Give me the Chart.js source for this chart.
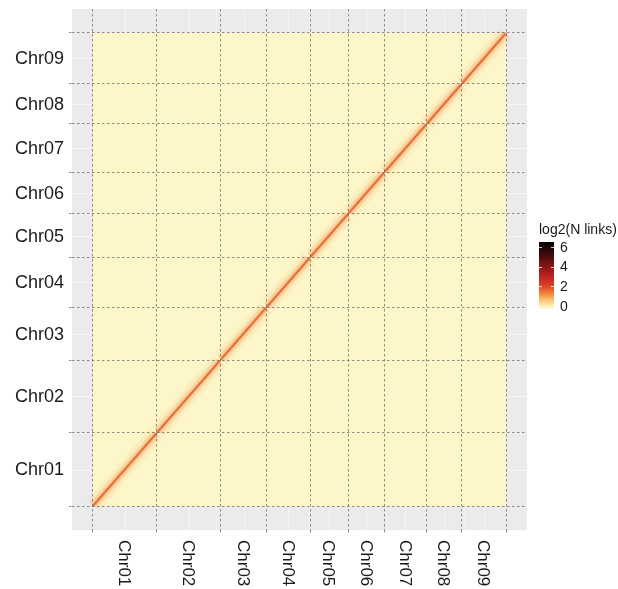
<!DOCTYPE html>
<html>
<head>
<meta charset="utf-8">
<script src="https://cdn.jsdelivr.net/npm/chart.js@4.4.1/dist/chart.umd.min.js"></script>
<style>
  html, body { margin: 0; padding: 0; background: #fff; }
  #wrap { width: 618px; height: 589px; }
</style>
</head>
<body>
<div id="wrap"><canvas id="hicChart" width="618" height="589"></canvas></div>
<script>
const chromosomes = ["Chr01", "Chr02", "Chr03", "Chr04", "Chr05", "Chr06", "Chr07", "Chr08", "Chr09"];
const chromLengths = [64.2, 63.3, 46.2, 43.3, 38.2, 35.9, 42.3, 34.9, 44.7];

// colour bar: log2(N links)
const legendTicks = [0, 2, 4, 6];
const legendRange = [-0.3, 6.5];
const rampValues = [-0.3, 0, 0.6, 1.2, 2, 3, 4, 5, 6, 6.5];
const rampColors = ["#FFFBE2", "#FEEDB4", "#FBC477", "#F48B3E", "#DE4327", "#BC2220", "#8A1717", "#4C0C0C", "#1C0505", "#000000"];

const starts = [];
let genome = 0;
chromLengths.forEach((len) => { starts.push(genome); genome += len; });
const boundaries = [...starts, genome];
const centers = starts.map((s, i) => s + chromLengths[i] / 2);
const pad = genome * 0.05;

// contact map: near-zero background plus the intra-chromosome diagonal
const heatRect = [{ x: 0, y: genome }, { x: genome, y: genome }];
const diagonal = [{ x: 0, y: 0 }, { x: genome, y: genome }];
const intraBlocks = starts.flatMap((s, i) => {
  const e = s + chromLengths[i];
  return [{ x: s + 0.8, y: s + 0.8 }, { x: e - 0.8, y: e - 0.8 }, { x: e, y: null }];
});

const FONT = "'Liberation Sans', Arial, Helvetica, sans-serif";

const panelPlugin = {
  id: "panel",
  beforeDatasetsDraw(chart) {
    const { ctx, chartArea: a, scales: { x, y } } = chart;
    ctx.save();
    ctx.fillStyle = "#EBEBEB";
    ctx.fillRect(a.left, a.top, a.right - a.left, a.bottom - a.top);
    ctx.strokeStyle = "rgba(255,255,255,0.55)";
    const minors = centers.slice(1).map((c, i) => (c + centers[i]) / 2);
    [[centers, 1], [minors, 0.5]].forEach(([vals, w]) => {
      ctx.lineWidth = w;
      vals.forEach((v) => {
        const px = Math.round(x.getPixelForValue(v)) + 0.5;
        const py = Math.round(y.getPixelForValue(v)) + 0.5;
        ctx.beginPath();
        ctx.moveTo(px, a.top); ctx.lineTo(px, a.bottom);
        ctx.moveTo(a.left, py); ctx.lineTo(a.right, py);
        ctx.stroke();
      });
    });
    ctx.restore();
  },
  afterDraw(chart) {
    const { ctx, chartArea: a, scales: { x, y } } = chart;
    ctx.save();
    ctx.fillStyle = "#1A1A1A";
    // y labels
    ctx.font = "18px " + FONT;
    ctx.textAlign = "right";
    ctx.textBaseline = "middle";
    chromosomes.forEach((name, i) => {
      ctx.fillText(name, a.left - 8, y.getPixelForValue(centers[i]) + 1);
    });
    // x labels, rotated to read downwards
    ctx.font = "17px " + FONT;
    ctx.textAlign = "left";
    chromosomes.forEach((name, i) => {
      ctx.save();
      ctx.translate(x.getPixelForValue(centers[i]) - 1, a.bottom + 10);
      ctx.rotate(Math.PI / 2);
      ctx.fillText(name, 0, 0);
      ctx.restore();
    });

    // colour bar legend
    const barLeft = a.right + 12, barW = 15, barTop = 242, barBottom = 309;
    const valToPx = (v) => barBottom - (v - legendRange[0]) / (legendRange[1] - legendRange[0]) * (barBottom - barTop);
    ctx.font = "14px " + FONT;
    ctx.fillStyle = "#1A1A1A";
    ctx.textAlign = "left";
    ctx.fillText("log2(N links)", barLeft, 230);
    const grad = ctx.createLinearGradient(0, barBottom, 0, barTop);
    rampValues.forEach((v, i) => {
      grad.addColorStop((v - legendRange[0]) / (legendRange[1] - legendRange[0]), rampColors[i]);
    });
    ctx.fillStyle = grad;
    ctx.fillRect(barLeft, barTop, barW, barBottom - barTop);
    ctx.strokeStyle = "rgba(255,255,255,0.8)";
    ctx.lineWidth = 1;
    ctx.font = "14px " + FONT;
    ctx.fillStyle = "#1A1A1A";
    legendTicks.forEach((v) => {
      const py = Math.round(valToPx(v)) + 0.5;
      ctx.beginPath();
      ctx.moveTo(barLeft, py); ctx.lineTo(barLeft + 3, py);
      ctx.moveTo(barLeft + barW - 3, py); ctx.lineTo(barLeft + barW, py);
      ctx.stroke();
      ctx.fillText(String(v), barLeft + 21, valToPx(v) + 1);
    });
    ctx.restore();
  }
};

const dashedAxis = (ticks, tickLength) => ({
  type: "linear",
  min: -pad,
  max: genome + pad,
  afterBuildTicks: (scale) => { scale.ticks = ticks.map((v) => ({ value: v })); },
  ticks: { display: false },
  grid: {
    z: 1,
    color: "rgba(105,105,105,0.75)",
    lineWidth: 1,
    drawTicks: true,
    tickLength,
    tickColor: "rgba(105,105,105,0.75)",
    tickBorderDash: [2.5, 2.5],
  },
  border: { display: false, dash: [2.5, 2.5] },
});

new Chart(document.getElementById("hicChart"), {
  type: "line",
  data: {
    datasets: [
      { data: diagonal, borderColor: "#E4602C", borderWidth: 1.4, pointRadius: 0, order: 1 },
      { data: intraBlocks, borderColor: "rgba(236,125,64,0.40)", borderWidth: 4, pointRadius: 0, order: 2 },
      { data: intraBlocks, borderColor: "rgba(240,150,85,0.24)", borderWidth: 9, pointRadius: 0, order: 3 },
      { data: intraBlocks, borderColor: "rgba(245,175,105,0.12)", borderWidth: 16, pointRadius: 0, order: 4 },
      {
        data: heatRect,
        borderWidth: 0,
        pointRadius: 0,
        backgroundColor: "#FCF6C9",
        fill: { value: 0 },
        order: 5,
      },
    ],
  },
  options: {
    responsive: false,
    animation: false,
    layout: { padding: { left: 69, right: 91, top: 9, bottom: 54 } },
    plugins: { legend: { display: false }, tooltip: { enabled: false } },
    scales: {
      x: dashedAxis(boundaries, 5),
      y: dashedAxis(boundaries, 3),
    },
  },
  plugins: [panelPlugin],
});
</script>
</body>
</html>
